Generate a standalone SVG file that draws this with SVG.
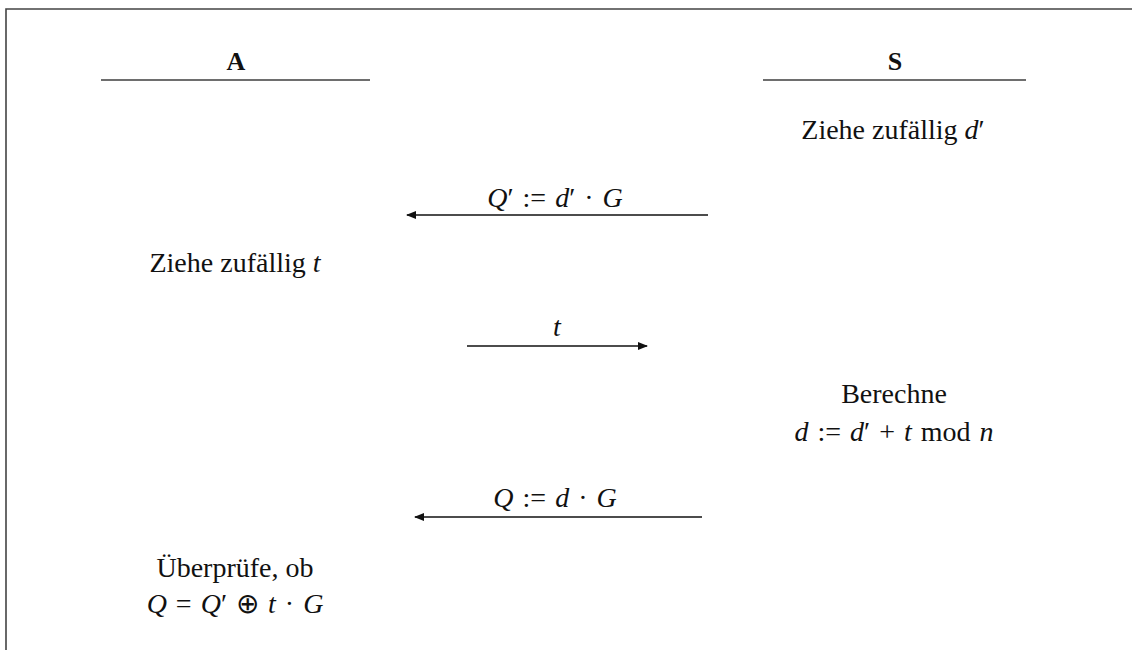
<svg xmlns="http://www.w3.org/2000/svg" width="1132" height="650" viewBox="0 0 1132 650">
<style>
  text { font-family: "Liberation Serif", "Times New Roman", serif; font-size: 28px; fill: #111; text-anchor: middle; }
  .b { font-weight: bold; font-size: 26px; }
  .i { font-style: italic; }
  .m { word-spacing: 2px; }
  .rule { stroke: #6e6e6e; stroke-width: 2.2; fill: none; }
  .arr { stroke: #111; stroke-width: 1.4; fill: none; marker-end: url(#ah); }
  .frame { stroke: #444; stroke-width: 1.6; fill: none; }
</style>
<defs>
  <marker id="ah" viewBox="0 0 10 8" refX="9" refY="4" markerWidth="10" markerHeight="8" markerUnits="userSpaceOnUse" orient="auto">
    <path d="M0,0 L10,4 L0,8 z" fill="#111"/>
  </marker>
</defs>
<rect width="1132" height="650" fill="#fff"/>
<path class="frame" d="M6,650 L6,9 L1132,9"/>

<g id="partyA">
  <text class="b" x="236" y="70">A</text>
  <line class="rule" x1="101" y1="80" x2="370" y2="80"/>
</g>
<g id="partyS">
  <text class="b" x="895" y="70">S</text>
  <line class="rule" x1="763" y1="80" x2="1026" y2="80"/>
</g>

<g id="stepS1">
  <text x="893" y="139">Ziehe zufällig <tspan class="i">d</tspan>′</text>
</g>
<g id="stepA1">
  <text x="235" y="272">Ziehe zufällig <tspan class="i">t</tspan></text>
</g>
<g id="stepS2">
  <text x="894" y="403">Berechne</text>
  <text class="m" x="894" y="441"><tspan class="i">d</tspan> := <tspan class="i">d</tspan>′ + <tspan class="i">t</tspan> mod <tspan class="i">n</tspan></text>
</g>
<g id="stepA2">
  <text x="235" y="577">Überprüfe, ob</text>
  <text class="m" x="235" y="613"><tspan class="i">Q</tspan> = <tspan class="i">Q</tspan>′ ⊕ <tspan class="i">t</tspan> · <tspan class="i">G</tspan></text>
</g>

<g id="connectors">
  <line class="arr" x1="708" y1="215" x2="407" y2="215"/>
  <text class="m" x="555" y="207"><tspan class="i">Q</tspan>′ := <tspan class="i">d</tspan>′ · <tspan class="i">G</tspan></text>
  <line class="arr" x1="467" y1="346" x2="647" y2="346"/>
  <text class="i" x="557" y="336">t</text>
  <line class="arr" x1="702" y1="517" x2="415" y2="517"/>
  <text class="m" x="555" y="507"><tspan class="i">Q</tspan> := <tspan class="i">d</tspan> · <tspan class="i">G</tspan></text>
</g>
</svg>
